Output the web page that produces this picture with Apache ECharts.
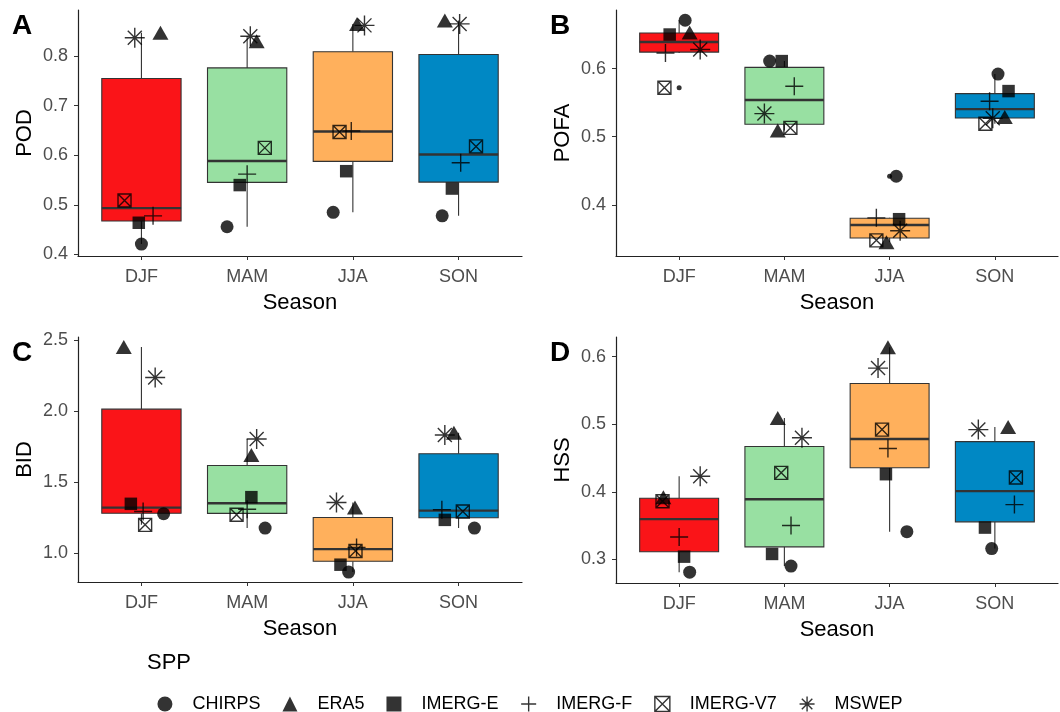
<!DOCTYPE html>
<html>
<head>
<meta charset="utf-8">
<title>SPP seasonal scores</title>
<script src="https://cdn.jsdelivr.net/npm/echarts@6/dist/echarts.min.js"></script>
<style>
  html, body { margin: 0; padding: 0; background: #fff; }
  #main { width: 1060px; height: 712px; }
</style>
</head>
<body>
<div id="main"></div>
<script>
// categories
var seasons = ['DJF', 'MAM', 'JJA', 'SON'];
var sppNames = ['CHIRPS', 'ERA5', 'IMERG-E', 'IMERG-F', 'IMERG-V7', 'MSWEP'];

// values, one row per SPP, columns DJF MAM JJA SON
var pod = [
  [0.421, 0.456, 0.485, 0.478],
  [0.847, 0.830, 0.865, 0.872],
  [0.464, 0.540, 0.568, 0.533],
  [0.478, 0.562, 0.649, 0.585],
  [0.509, 0.615, 0.647, 0.618],
  [0.837, 0.840, 0.862, 0.865]
];
var pofa = [
  [0.671, 0.611, 0.442, 0.592],
  [0.653, 0.509, 0.345, 0.529],
  [0.650, 0.611, 0.379, 0.567],
  [0.623, 0.574, 0.381, 0.552],
  [0.572, 0.513, 0.348, 0.519],
  [0.628, 0.534, 0.362, 0.527]
];
var bid = [
  [1.277, 1.176, 0.866, 1.176],
  [2.453, 1.691, 1.321, 1.848],
  [1.347, 1.394, 0.918, 1.234],
  [1.293, 1.309, 1.040, 1.305],
  [1.199, 1.270, 1.015, 1.293],
  [2.237, 1.804, 1.356, 1.832]
];
var hss = [
  [0.281, 0.290, 0.341, 0.316],
  [0.392, 0.509, 0.614, 0.496],
  [0.304, 0.308, 0.426, 0.347],
  [0.333, 0.350, 0.464, 0.381],
  [0.386, 0.428, 0.492, 0.421],
  [0.423, 0.480, 0.583, 0.492]
];

// horizontal jitter of each point (in category units)
var podJitter = [
  [0.00, -0.19, -0.186, -0.155],
  [0.18, 0.09, 0.04, -0.13],
  [-0.025, -0.07, -0.063, -0.063],
  [0.11, 0.0, -0.015, 0.02],
  [-0.16, 0.167, -0.126, 0.165],
  [-0.063, 0.03, 0.11, 0.01]
];
var pofaJitter = [
  [0.057, -0.14, 0.063, 0.03],
  [0.10, -0.063, -0.03, 0.094],
  [-0.09, -0.025, 0.09, 0.13],
  [-0.13, 0.094, -0.126, -0.05],
  [-0.14, 0.057, -0.126, -0.09],
  [0.20, -0.19, 0.10, -0.02]
];
var bidJitter = [
  [0.21, 0.17, -0.04, 0.15],
  [-0.167, 0.04, 0.02, -0.044],
  [-0.10, 0.04, -0.117, -0.13],
  [0.016, 0.0, 0.035, -0.158],
  [0.035, -0.10, 0.025, 0.04],
  [0.13, 0.09, -0.155, -0.13]
];
var hssJitter = [
  [0.10, 0.063, 0.164, -0.03],
  [-0.15, -0.063, -0.016, 0.126],
  [0.047, -0.117, -0.035, -0.094],
  [0.0, 0.063, -0.016, 0.186],
  [-0.158, -0.03, -0.072, 0.20],
  [0.20, 0.167, -0.11, -0.157]
];

// tick labels
var podTicks = [0.4, 0.5, 0.6, 0.7, 0.8];
var pofaTicks = [0.4, 0.5, 0.6];
var bidTicks = [1.0, 1.5, 2.0, 2.5];
var hssTicks = [0.3, 0.4, 0.5, 0.6];

var seasonColors = ['#FA1418', '#98E0A2', '#FFB05C', '#0088C4'];
var FONT = 'Liberation Sans, Arial, sans-serif';

var symbols = [
  'circle',
  'triangle',
  'rect',
  'path://M0,5L10,5M5,0L5,10',
  'path://M0,0L10,0L10,10L0,10ZM0,0L10,10M10,0L0,10',
  'path://M0,5L10,5M5,0L5,10M1.5,1.5L8.5,8.5M1.5,8.5L8.5,1.5'
];
var symbolSizes = [13, [16, 14], 12.5, 18, 13, 20];
var filled = { color: '#000', borderWidth: 0 };
var stroked = { color: 'rgba(0,0,0,0)', borderColor: '#000', borderWidth: 1.4 };
var symbolStyles = [filled, filled, filled, stroked, stroked, stroked];

var panels = [
  { title: 'POD', letter: 'A', vals: pod, jit: podJitter, ticks: podTicks, min: 0.397, max: 0.893, dec: 1,
    grid: { left: 78, top: 10, width: 444, height: 246 } },
  { title: 'POFA', letter: 'B', vals: pofa, jit: pofaJitter, ticks: pofaTicks, min: 0.325, max: 0.686, dec: 1,
    grid: { left: 616, top: 10, width: 442, height: 246 } },
  { title: 'BID', letter: 'C', vals: bid, jit: bidJitter, ticks: bidTicks, min: 0.796, max: 2.523, dec: 1,
    grid: { left: 78, top: 337, width: 444, height: 245 } },
  { title: 'HSS', letter: 'D', vals: hss, jit: hssJitter, ticks: hssTicks, min: 0.265, max: 0.629, dec: 1,
    grid: { left: 616, top: 337, width: 442, height: 246 } }
];

// ggplot style (type 7) quantile
function quantile(sorted, p) {
  var h = (sorted.length - 1) * p;
  var lo = Math.floor(h);
  var hi = Math.min(lo + 1, sorted.length - 1);
  return sorted[lo] + (h - lo) * (sorted[hi] - sorted[lo]);
}

function boxStats(values) {
  var s = values.slice().sort(function (a, b) { return a - b; });
  var q1 = quantile(s, 0.25), med = quantile(s, 0.5), q3 = quantile(s, 0.75);
  var iqr = q3 - q1;
  var inside = s.filter(function (v) { return v >= q1 - 1.5 * iqr && v <= q3 + 1.5 * iqr; });
  var outliers = s.filter(function (v) { return v < q1 - 1.5 * iqr || v > q3 + 1.5 * iqr; });
  return { lo: inside[0], q1: q1, med: med, q3: q3, hi: inside[inside.length - 1], out: outliers };
}

function renderBox(params, api) {
  var x = api.value(0);
  var hw = 0.375;
  var col = seasonColors[api.value(6)];
  var tl = api.coord([x - hw, api.value(4)]);
  var br = api.coord([x + hw, api.value(2)]);
  var mL = api.coord([x - hw, api.value(3)]);
  var mR = api.coord([x + hw, api.value(3)]);
  var pHi = api.coord([x, api.value(5)]);
  var pQ3 = api.coord([x, api.value(4)]);
  var pQ1 = api.coord([x, api.value(2)]);
  var pLo = api.coord([x, api.value(1)]);
  var ln = { stroke: '#333', lineWidth: 1.1 };
  return {
    type: 'group',
    children: [
      { type: 'line', shape: { x1: pHi[0], y1: pHi[1], x2: pQ3[0], y2: pQ3[1] }, style: ln },
      { type: 'line', shape: { x1: pQ1[0], y1: pQ1[1], x2: pLo[0], y2: pLo[1] }, style: ln },
      { type: 'rect', shape: { x: tl[0], y: tl[1], width: br[0] - tl[0], height: br[1] - tl[1] },
        style: { fill: col, stroke: '#333', lineWidth: 1.1 } },
      { type: 'line', shape: { x1: mL[0], y1: mL[1], x2: mR[0], y2: mR[1] }, style: { stroke: '#333', lineWidth: 2.4 } }
    ]
  };
}

window.onload = function () {
  var myChart = echarts.init(document.getElementById('main'));
  var grids = [], xAxes = [], yAxes = [], series = [], graphics = [];

  panels.forEach(function (p, gi) {
    grids.push(p.grid);
    xAxes.push({
      gridIndex: gi, type: 'value', min: 0.4, max: 4.6,
      name: 'Season', nameLocation: 'middle', nameGap: 36,
      nameTextStyle: { fontFamily: FONT, fontSize: 22, color: '#000' },
      axisLine: { show: true, lineStyle: { color: '#222', width: 1.2 } },
      axisTick: { show: true, length: 4, customValues: [1, 2, 3, 4], lineStyle: { color: '#333' } },
      axisLabel: {
        customValues: [1, 2, 3, 4], margin: 12, fontFamily: FONT, fontSize: 18, color: '#4D4D4D',
        formatter: function (v) { return seasons[Math.round(v) - 1]; }
      },
      splitLine: { show: false }
    });
    yAxes.push({
      gridIndex: gi, type: 'value', min: p.min, max: p.max,
      name: p.title, nameLocation: 'middle', nameGap: 42,
      nameTextStyle: { fontFamily: FONT, fontSize: 22, color: '#000' },
      axisLine: { show: true, lineStyle: { color: '#222', width: 1.2 } },
      axisTick: { show: true, length: 4, customValues: p.ticks, lineStyle: { color: '#333' } },
      axisLabel: {
        customValues: p.ticks, margin: 10, fontFamily: FONT, fontSize: 18, color: '#4D4D4D',
        formatter: function (v) { return v.toFixed(p.dec); }
      },
      splitLine: { show: false }
    });

    // box per season, computed from the six SPP values
    var boxData = [], outData = [];
    seasons.forEach(function (s, si) {
      var col = p.vals.map(function (row) { return row[si]; });
      var b = boxStats(col);
      boxData.push([si + 1, b.lo, b.q1, b.med, b.q3, b.hi, si]);
      b.out.forEach(function (v) { outData.push([si + 1, v]); });
    });
    series.push({
      type: 'custom', xAxisIndex: gi, yAxisIndex: gi, renderItem: renderBox,
      encode: { x: 0, y: [1, 2, 3, 4, 5] }, data: boxData, silent: true, z: 1
    });
    series.push({
      type: 'scatter', xAxisIndex: gi, yAxisIndex: gi, symbol: 'circle', symbolSize: 5,
      itemStyle: { color: '#000' }, data: outData, silent: true, z: 2
    });

    // SPP points
    sppNames.forEach(function (name, k) {
      series.push({
        name: name, type: 'scatter', xAxisIndex: gi, yAxisIndex: gi,
        symbol: symbols[k], symbolSize: symbolSizes[k], itemStyle: symbolStyles[k],
        data: seasons.map(function (s, si) { return [si + 1 + p.jit[k][si], p.vals[k][si]]; }),
        silent: true, z: 3
      });
    });

    graphics.push({
      type: 'text', left: p.grid.left - 66, top: p.grid.top + 2,
      style: { text: p.letter, font: 'bold 28px ' + FONT, fill: '#000' }
    });
  });

  graphics.push({
    type: 'text', left: 147, top: 652,
    style: { text: 'SPP', font: '22px ' + FONT, fill: '#000' }
  });

  var option = {
    animation: false,
    grid: grids,
    xAxis: xAxes,
    yAxis: yAxes,
    legend: {
      left: 'center', top: 690, itemWidth: 15, itemHeight: 15, itemGap: 22,
      selectedMode: false,
      textStyle: { fontFamily: FONT, fontSize: 18, color: '#000' },
      formatter: function (n) { return '   ' + n; },
      data: sppNames.map(function (n, k) {
        return { name: n, icon: symbols[k], itemStyle: symbolStyles[k] };
      })
    },
    graphic: graphics,
    series: series
  };
  myChart.setOption(option);
};
</script>
</body>
</html>
